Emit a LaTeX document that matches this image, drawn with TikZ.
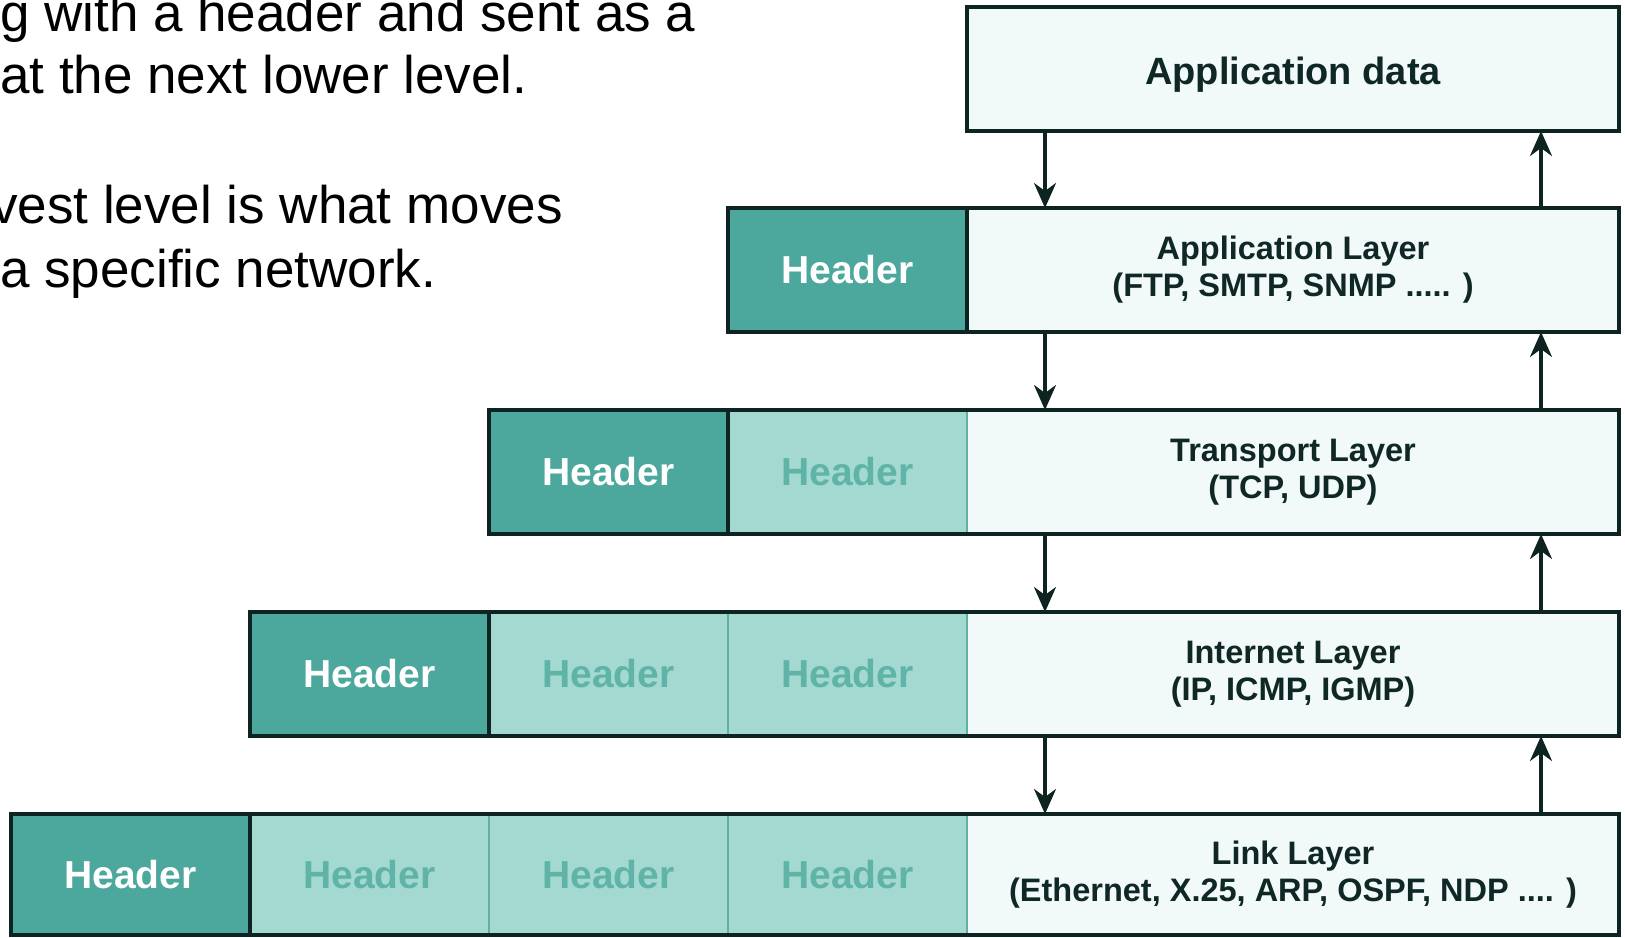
\documentclass[tikz,border=0pt]{standalone}
\usepackage{fontspec}
\setmainfont{Liberation Sans}
\usetikzlibrary{arrows.meta}
\definecolor{hdark}{HTML}{4CA89C}
\definecolor{hlight}{HTML}{A3D9D1}
\definecolor{htext}{HTML}{5FB3A7}
\definecolor{dfill}{HTML}{F1F9F9}
\definecolor{bcol}{HTML}{0E2422}
\definecolor{sepcol}{HTML}{5FAFA3}
\definecolor{txtcol}{HTML}{0F2826}
\begin{document}
\begin{tikzpicture}[x=1pt,y=-1pt,
  cell/.style={rectangle, anchor=north west, inner sep=0pt, outer sep=0pt, minimum height=124pt},
  hdk/.style={cell, fill=hdark, minimum width=239pt, text=white, font=\bfseries\fontsize{39}{39}\selectfont},
  hlt/.style={cell, fill=hlight, draw=sepcol, line width=2pt, minimum width=239pt, text=htext, font=\bfseries\fontsize{39}{39}\selectfont},
  dat/.style={cell, fill=dfill, draw=sepcol, line width=2pt, minimum width=652pt, text=txtcol, align=center, font=\bfseries\fontsize{32.5}{37}\selectfont},
  rowbox/.style={draw=bcol, line width=4pt},
  arr/.style={draw=bcol, line width=3.2pt, -{Stealth[length=25pt,width=22pt,inset=8pt]}},
  lefttext/.style={anchor=base west, inner sep=0pt, font=\fontsize{53}{62}\selectfont, text=black}
]
\useasboundingbox (0,0) rectangle (1625,937);
\clip (0,0) rectangle (1625,937);

% left text
\node[lefttext] (t1) at (0,31) {g with a header and sent as a};
\node[lefttext] (t2) at (0,93) {at the next lower level.};
\node[lefttext] (t3) at (-9,223) {vest level is what moves};
\node[lefttext] (t4) at (0,287) {a specific network.};

% row 0
\node[dat, font=\bfseries\fontsize{38}{38}\selectfont, text height=31pt, text depth=0pt] (d0) at (967,7) {Application data};
\draw[rowbox] (d0.north west) rectangle (d0.south east);

% row 1
\node[hdk] (h1a) at (728,208) {Header};
\node[dat] (d1) at (967,208) {Application Layer\\(FTP, SMTP, SNMP ..... )};
\draw[rowbox] (h1a.north east) -- (h1a.south east);
\draw[rowbox] (h1a.north west) rectangle (d1.south east);

% row 2
\node[hdk] (h2a) at (489,410) {Header};
\node[hlt] (h2b) at (728,410) {Header};
\node[dat] (d2) at (967,410) {Transport Layer\\(TCP, UDP)};
\draw[rowbox] (h2a.north east) -- (h2a.south east);
\draw[rowbox] (h2a.north west) rectangle (d2.south east);

% row 3
\node[hdk] (h3a) at (250,612) {Header};
\node[hlt] (h3b) at (489,612) {Header};
\node[hlt] (h3c) at (728,612) {Header};
\node[dat] (d3) at (967,612) {Internet Layer\\(IP, ICMP, IGMP)};
\draw[rowbox] (h3a.north east) -- (h3a.south east);
\draw[rowbox] (h3a.north west) rectangle (d3.south east);

% row 4
\node[hdk, minimum height=121pt] (h4a) at (11,814) {Header};
\node[hlt, minimum height=121pt] (h4b) at (250,814) {Header};
\node[hlt, minimum height=121pt] (h4c) at (489,814) {Header};
\node[hlt, minimum height=121pt] (h4d) at (728,814) {Header};
\node[dat, minimum height=121pt] (d4) at (967,814) {Link Layer\\(Ethernet, X.25, ARP, OSPF, NDP .... )};
\draw[rowbox] (h4a.north east) -- (h4a.south east);
\draw[rowbox] (h4a.north west) rectangle (d4.south east);

% arrows
\coordinate (dn) at (1045,0);
\coordinate (upx) at (1541,0);
\draw[arr] (d0.south -| dn) -- (d1.north -| dn);
\draw[arr] (d1.north -| upx) -- (d0.south -| upx);
\draw[arr] (d1.south -| dn) -- (d2.north -| dn);
\draw[arr] (d2.north -| upx) -- (d1.south -| upx);
\draw[arr] (d2.south -| dn) -- (d3.north -| dn);
\draw[arr] (d3.north -| upx) -- (d2.south -| upx);
\draw[arr] (d3.south -| dn) -- (d4.north -| dn);
\draw[arr] (d4.north -| upx) -- (d3.south -| upx);
\end{tikzpicture}
\end{document}
